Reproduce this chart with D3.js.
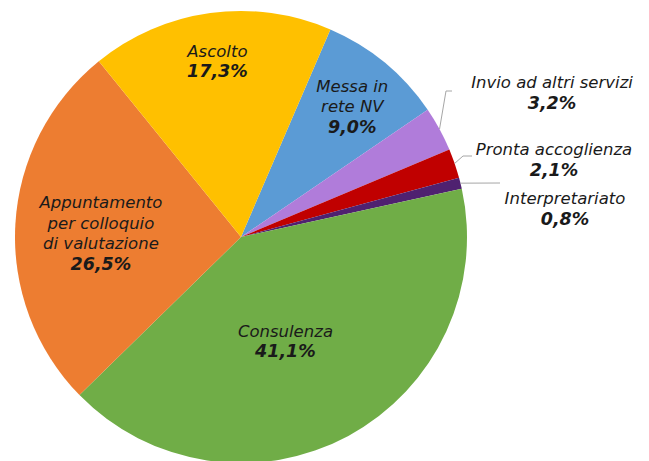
<!DOCTYPE html>
<html><head><meta charset="utf-8">
<script src="https://cdn.jsdelivr.net/npm/d3@7"></script>
<style>body{margin:0;background:#fff}svg{display:block}text{font-family:"DejaVu Sans",Verdana,sans-serif;fill:#1a1a1a}</style>
</head><body>
<script>
const categories = ["Messa in rete NV","Invio ad altri servizi","Pronta accoglienza","Interpretariato","Consulenza","Appuntamento per colloquio di valutazione","Ascolto"];
const labelLines = [["Messa in","rete NV"],["Invio ad altri servizi"],["Pronta accoglienza"],["Interpretariato"],["Consulenza"],["Appuntamento","per colloquio","di valutazione"],["Ascolto"]];
const values = [9.0,3.2,2.1,0.8,41.1,26.5,17.3];
const valueLabels = ["9,0%","3,2%","2,1%","0,8%","41,1%","26,5%","17,3%"];
const colors = ["#5B9BD5","#B07CDA","#C00000","#4F2170","#70AD47","#ED7D31","#FFC000"];

const W=649,H=461,cx=241,cy=237,r=226;
const svg=d3.select("body").append("svg").attr("width",W).attr("height",H);
const g=svg.append("g").attr("transform",`translate(${cx},${cy})`);
const startDeg=23.3;
const pie=d3.pie().sort(null).value(d=>d).startAngle(startDeg*Math.PI/180).endAngle((startDeg+360)*Math.PI/180);
const arcs=pie(values);
const arc=d3.arc().innerRadius(0).outerRadius(r);
g.selectAll("path").data(arcs).enter().append("path").attr("d",arc).attr("fill",(d,i)=>colors[i]);

const fs=16.5, fsb=17.5, lh=20.5;
// inside label layout: radius factor, angle nudge (deg)
const inside={0:[0.76,0.9],4:[0.50,5.2],5:[0.62,-1.7],6:[0.786,0.2]};
// outside label layout: text center relative to pie center, elbow points
const outside={1:{tx:311,ty:-149,pts:[[205,-146],[211,-146]]},2:{tx:313,ty:-82,pts:[[222,-81],[231,-81]]},3:{tx:324,ty:-33,pts:[[259,-54]]}};

arcs.forEach((d,i)=>{
  const mid=(d.startAngle+d.endAngle)/2;
  const lines=labelLines[i].map(t=>({t,b:false})).concat([{t:valueLabels[i],b:true}]);
  let x,y0;
  if(inside[i]){
    const [k,da]=inside[i];
    const a=mid+da*Math.PI/180;
    x=Math.sin(a)*r*k; const yc=-Math.cos(a)*r*k;
    y0=yc-(lines.length-1)*lh/2+fs*0.36;
  } else {
    const o=outside[i];
    x=o.tx; y0=o.ty;
    const p0=[Math.sin(mid)*r,-Math.cos(mid)*r];
    g.append("polyline").attr("points",[p0].concat(o.pts).map(p=>p.join(",")).join(" "))
      .attr("fill","none").attr("stroke","#A6A6A6").attr("stroke-width",1);
  }
  const t=g.append("text").attr("text-anchor","middle").attr("font-size",fs);
  lines.forEach((l,j)=>{
    t.append("tspan").attr("x",x).attr("y",y0+j*lh).attr("font-style","italic")
     .attr("font-weight",l.b?"bold":"normal").attr("font-size",l.b?fsb:fs).text(l.t);
  });
});
</script>
</body></html>
